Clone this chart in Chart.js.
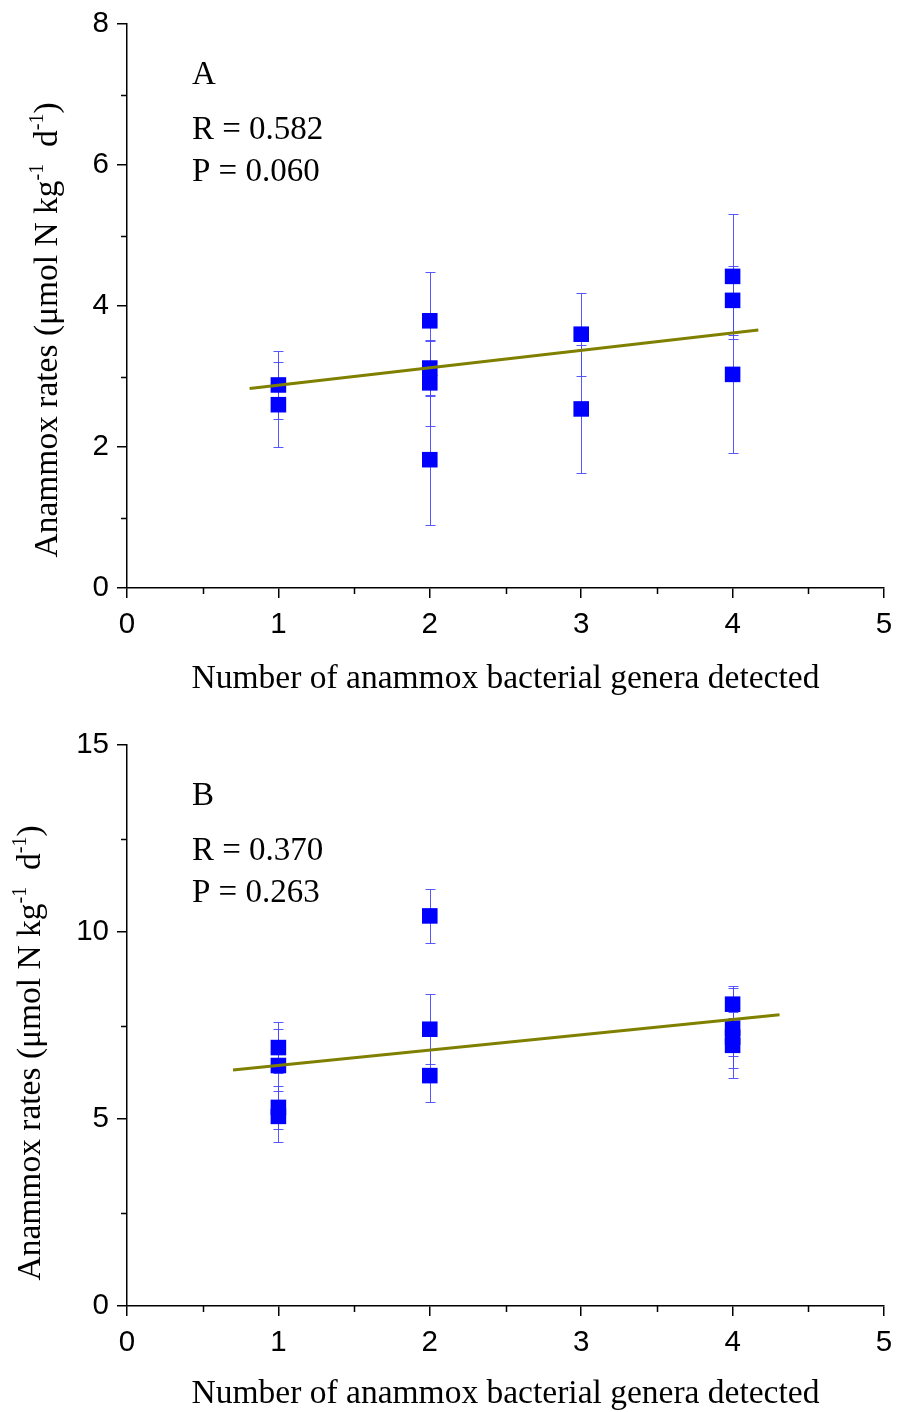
<!DOCTYPE html>
<html><head><meta charset="utf-8">
<script src="https://cdn.jsdelivr.net/npm/chart.js@4.4.0/dist/chart.umd.min.js"></script>
<style>
body{margin:0;background:#fff;width:897px;height:1412px;overflow:hidden;position:relative}
.p{position:absolute;left:0;width:897px;height:706px}
</style></head><body>
<div class="p" style="top:0"><canvas id="ca" width="897" height="706"></canvas></div>
<div class="p" style="top:706px"><canvas id="cb" width="897" height="706"></canvas></div>
<script>
// ---- data ----
const genusCountA = [1, 1, 2, 2, 2, 2, 3, 3, 4, 4, 4];
const rateA       = [2.88, 2.60, 3.79, 3.12, 2.91, 1.82, 3.60, 2.54, 4.42, 4.08, 3.03];
const rateErrA    = [0.48, 0.60, 0.69, 0.39, 0.61, 0.92, 0.59, 0.91, 0.89, 0.49, 1.12];
const fitXA = [0.81, 4.17];
const fitYA = [2.83, 3.66];
const labelsA = ['A', 'R = 0.582', 'P = 0.060'];

const genusCountB = [1, 1, 1, 1, 2, 2, 2, 4, 4, 4, 4];
const rateB       = [6.91, 6.43, 5.31, 5.07, 10.43, 7.40, 6.16, 8.07, 7.43, 7.19, 6.97];
const rateErrB    = [0.69, 0.97, 0.58, 0.68, 0.72, 0.94, 0.70, 0.49, 1.07, 0.50, 0.88];
const fitXB = [0.70, 4.31];
const fitYB = [6.31, 7.79];
const labelsB = ['B', 'R = 0.370', 'P = 0.263'];

const xTitle = 'Number of anammox bacterial genera detected';
const yTitleParts = ['Anammox rates (\u03bcmol N kg', '-1', '  d', '-1', ')'];
const xMinorTicks = [0.5, 1.5, 2.5, 3.5, 4.5];
const yMinorTicksA = [1, 3, 5, 7];
const yMinorTicksB = [2.5, 7.5, 12.5];

const serif = "'Liberation Serif','Times New Roman',serif";
const sans = "'Liberation Sans',Arial,sans-serif";

function errPlugin(xs, ys, es) {
  return {
    id: 'errbars',
    beforeDatasetsDraw(chart) {
      const sx = chart.scales.x, sy = chart.scales.y, ctx = chart.ctx;
      ctx.save();
      ctx.strokeStyle = 'rgba(70,70,255,0.9)';
      ctx.lineWidth = 1;
      xs.forEach((xv, i) => {
        const px = Math.round(sx.getPixelForValue(xv)) + 0.5;
        const top = Math.round(sy.getPixelForValue(ys[i] + es[i])) + 0.5;
        const bot = Math.round(sy.getPixelForValue(ys[i] - es[i])) + 0.5;
        ctx.beginPath();
        ctx.moveTo(px, top); ctx.lineTo(px, bot);
        ctx.moveTo(px - 5, top); ctx.lineTo(px + 5, top);
        ctx.moveTo(px - 5, bot); ctx.lineTo(px + 5, bot);
        ctx.stroke();
      });
      ctx.restore();
    }
  };
}

function decorPlugin(lines, yMinor, titleX, titleY) {
  return {
    id: 'decor',
    afterDraw(chart) {
      const {ctx, chartArea} = chart;
      const sx = chart.scales.x, sy = chart.scales.y;
      ctx.save();
      // minor ticks
      ctx.strokeStyle = '#000';
      ctx.lineWidth = 1.5;
      ctx.beginPath();
      xMinorTicks.forEach(v => {
        const px = Math.round(sx.getPixelForValue(v)) + 0.5;
        ctx.moveTo(px, chartArea.bottom); ctx.lineTo(px, chartArea.bottom + 6);
      });
      yMinor.forEach(v => {
        const py = Math.round(sy.getPixelForValue(v)) + 0.5;
        ctx.moveTo(chartArea.left, py); ctx.lineTo(chartArea.left - 6, py);
      });
      ctx.stroke();
      // panel texts
      ctx.fillStyle = '#000';
      ctx.font = '33px ' + serif;
      ctx.textAlign = 'left';
      ctx.textBaseline = 'middle';
      const dys = [51, 106, 148];
      lines.forEach((t, i) => ctx.fillText(t, chartArea.left + 65, chartArea.top + dys[i]));
      // y title with superscripts
      const mainFont = '33.5px ' + serif, supFont = '20px ' + serif;
      let total = 0;
      const widths = yTitleParts.map((t, i) => {
        ctx.font = (i % 2 === 1) ? supFont : mainFont;
        const w = ctx.measureText(t).width; total += w; return w;
      });
      ctx.translate(titleX, titleY);
      ctx.rotate(-Math.PI / 2);
      let x = -total / 2;
      yTitleParts.forEach((t, i) => {
        const sup = i % 2 === 1;
        ctx.font = sup ? supFont : mainFont;
        ctx.fillText(t, x, sup ? -10 : 0);
        x += widths[i];
      });
      ctx.restore();
    }
  };
}

function makeChart(id, xs, ys, es, fx, fy, yMax, yStep, yMinor, labels, padTop, xHeight, titleBottom, titleX, titleY) {
  return new Chart(document.getElementById(id), {
    type: 'scatter',
    data: {
      datasets: [
        {type: 'line', data: fx.map((x, i) => ({x, y: fy[i]})), borderColor: '#808000',
         borderWidth: 3, pointRadius: 0, fill: false, tension: 0},
        {type: 'scatter', data: xs.map((x, i) => ({x, y: ys[i]})), pointStyle: 'rect',
         pointRadius: 11, backgroundColor: '#0000FF', borderColor: '#0000FF', borderWidth: 0}
      ]
    },
    options: {
      responsive: false,
      animation: false,
      layout: {padding: {top: padTop, right: 13, left: 0, bottom: 0}},
      plugins: {legend: {display: false}, tooltip: {enabled: false}},
      scales: {
        x: {
          type: 'linear', min: 0, max: 5, position: 'bottom',
          ticks: {stepSize: 1, font: {family: sans, size: 29.5}, color: '#000', padding: 9, maxRotation: 0, autoSkip: false},
          grid: {drawOnChartArea: false, drawTicks: true, tickLength: 10, color: '#000', lineWidth: 1.5},
          border: {display: true, color: '#000', width: 1.5},
          title: {display: true, text: xTitle, font: {family: serif, size: 33.5, lineHeight: 1}, color: '#000', padding: {top: 0, bottom: titleBottom}},
          afterFit(s) { s.height = xHeight; s.paddingLeft = 0; s.paddingRight = 0; }
        },
        y: {
          type: 'linear', min: 0, max: yMax,
          ticks: {stepSize: yStep, font: {family: sans, size: 29.5}, color: '#000', padding: 8},
          grid: {drawOnChartArea: false, drawTicks: true, tickLength: 10, color: '#000', lineWidth: 1.5},
          border: {display: true, color: '#000', width: 1.5},
          afterFit(s) { s.width = 127; s.paddingTop = 0; s.paddingBottom = 0; }
        }
      }
    },
    plugins: [errPlugin(xs, ys, es), decorPlugin(labels, yMinor, titleX, titleY)]
  });
}

makeChart('ca', genusCountA, rateA, rateErrA, fitXA, fitYA, 8, 2, yMinorTicksA, labelsA, 24, 118, 10, 48, 330);
makeChart('cb', genusCountB, rateB, rateErrB, fitXB, fitYB, 15, 5, yMinorTicksB, labelsB, 39, 106, 1, 31, 347);
</script>
</body></html>
